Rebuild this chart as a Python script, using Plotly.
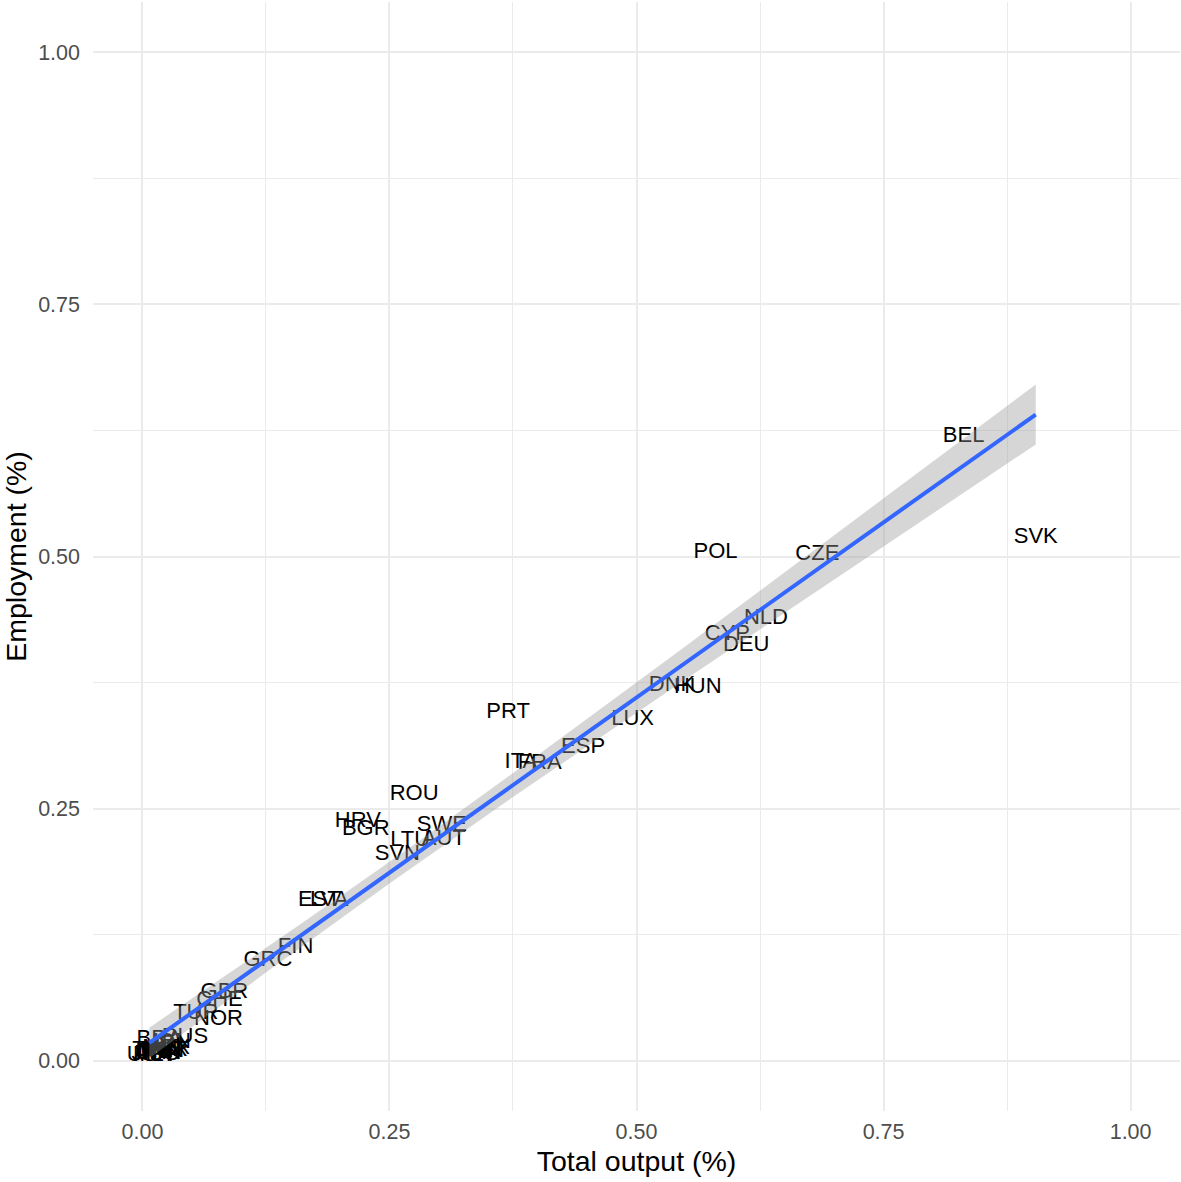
import numpy as np
import plotly.graph_objects as go

countries = ["BEL", "SVK", "POL", "CZE", "NLD", "CYP", "DEU", "DNK", "HUN", "PRT",
             "LUX", "ESP", "ITA", "FRA", "ROU", "HRV", "BGR", "SWE", "LTU", "AUT",
             "SVN", "EST", "LVA", "FIN", "GRC", "GBR", "CHE", "TUR", "NOR", "RUS",
             "BRA", "IDN", "IRL", "MLT", "AUS", "CAN", "CHN", "IND", "JPN", "KOR",
             "MEX", "TWN", "USA"]
total_output = [0.831, 0.904, 0.580, 0.683, 0.631, 0.592, 0.611, 0.536, 0.562, 0.370,
                0.496, 0.446, 0.383, 0.402, 0.275, 0.218, 0.226, 0.303, 0.271, 0.305,
                0.258, 0.179, 0.189, 0.155, 0.127, 0.083, 0.078, 0.054, 0.077, 0.043,
                0.017, 0.030, 0.010, 0.012, 0.014, 0.016, 0.018, 0.020, 0.010, 0.022,
                0.024, 0.015, 0.007]
employment = [0.619, 0.519, 0.504, 0.502, 0.439, 0.423, 0.412, 0.372, 0.370, 0.345,
              0.338, 0.311, 0.296, 0.295, 0.264, 0.237, 0.229, 0.233, 0.218, 0.219,
              0.204, 0.159, 0.159, 0.112, 0.099, 0.068, 0.060, 0.047, 0.041, 0.023,
              0.021, 0.018, 0.008, 0.005, 0.006, 0.007, 0.009, 0.011, 0.006, 0.010,
              0.012, 0.010, 0.005]
tick_vals = [0.0, 0.25, 0.5, 0.75, 1.0]
tick_text = ["0.00", "0.25", "0.50", "0.75", "1.00"]
minor_vals = [-0.125, 0.125, 0.375, 0.625, 0.875, 1.125]

x = np.array(total_output)
y = np.array(employment)
n = len(x)
slope, intercept = np.polyfit(x, y, 1)
resid = y - (slope * x + intercept)
s = np.sqrt(np.sum(resid ** 2) / (n - 2))
xm = x.mean()
sxx = np.sum((x - xm) ** 2)
t_crit = 2.0195  # 95% t quantile, df = 41
xs = np.linspace(x.min(), x.max(), 80)
ys = slope * xs + intercept
se = s * np.sqrt(1.0 / n + (xs - xm) ** 2 / sxx)
lo = ys - t_crit * se
hi = ys + t_crit * se

FONT = "Liberation Sans, Arial, Helvetica, sans-serif"

fig = go.Figure()
fig.add_trace(go.Scatter(
    x=total_output, y=employment, text=countries, mode="text",
    textposition="middle center",
    textfont=dict(family=FONT, size=22, color="black"),
    hoverinfo="skip", showlegend=False))
fig.add_trace(go.Scatter(
    x=np.concatenate([xs, xs[::-1]]), y=np.concatenate([hi, lo[::-1]]),
    fill="toself", fillcolor="rgba(153,153,153,0.4)", line=dict(width=0),
    mode="lines", hoverinfo="skip", showlegend=False))
fig.add_trace(go.Scatter(
    x=xs, y=ys, mode="lines", line=dict(color="#3366FF", width=4),
    hoverinfo="skip", showlegend=False))

axis_common = dict(
    tickvals=tick_vals, ticktext=tick_text,
    showgrid=True, gridcolor="#EBEBEB", gridwidth=2,
    zeroline=False, showline=False, ticks="", automargin=False,
    tickfont=dict(family=FONT, size=21.5, color="#4D4D4D"),
    minor=dict(tickvals=minor_vals, showgrid=True, gridcolor="#EBEBEB", gridwidth=1),
)
fig.update_xaxes(range=[-0.05, 1.05], ticklabelstandoff=5,
                 title=dict(text="Total output (%)", standoff=8,
                            font=dict(family=FONT, size=28.5, color="black")), **axis_common)
fig.update_yaxes(range=[-0.05, 1.05], ticklabelstandoff=12,
                 title=dict(text="Employment (%)", standoff=10,
                            font=dict(family=FONT, size=28.5, color="black")), **axis_common)
fig.update_layout(
    width=1181, height=1182,
    margin=dict(l=93, r=1, t=2, b=71),
    paper_bgcolor="white", plot_bgcolor="white",
    showlegend=False,
)
fig.write_html("out.html", config={"displayModeBar": False},
               post_script="document.body.style.margin='0';document.body.style.overflow='hidden';")
